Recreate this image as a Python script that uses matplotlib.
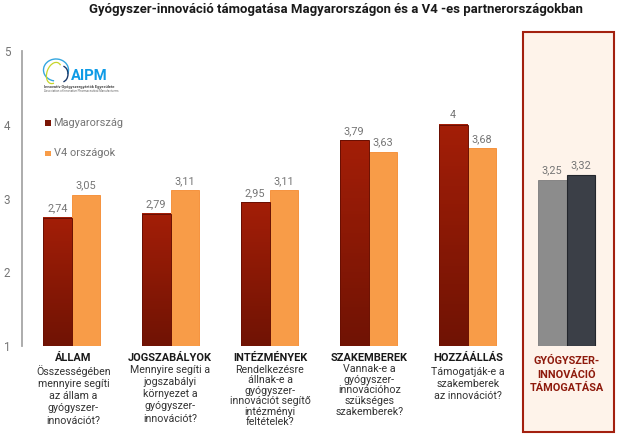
import numpy as np
import matplotlib.pyplot as plt
from matplotlib.patches import Rectangle, Arc
from matplotlib.colors import LinearSegmentedColormap

W, H = 620, 436

TITLE = "Gyógyszer-innováció támogatása Magyarországon és a V4 -es partnerországokban"
categories = ["ÁLLAM", "JOGSZABÁLYOK", "INTÉZMÉNYEK", "SZAKEMBEREK", "HOZZÁÁLLÁS"]
questions = [
    "Összességében\nmennyire segíti\naz állam a\ngyógyszer-\ninnovációt?",
    "Mennyire segíti a\njogszabályi\nkörnyezet a\ngyógyszer-\ninnovációt?",
    "Rendelkezésre\nállnak-e a\ngyógyszer-\ninnovációt segítő\nintézményi\nfeltételek?",
    "Vannak-e a\ngyógyszer-\ninnovációhoz\nszükséges\nszakemberek?",
    "Támogatják-e a\nszakemberek\naz innovációt?",
]
hungary = [2.74, 2.79, 2.95, 3.79, 4]
v4 = [3.05, 3.11, 3.11, 3.63, 3.68]
total_label = "GYÓGYSZER-\nINNOVÁCIÓ\nTÁMOGATÁSA"
total_hungary = 3.25
total_v4 = 3.32
yticks = [1, 2, 3, 4, 5]

# text placement below the groups, in pixels
text_centres = [73.5, 170, 270, 369.5, 468]
text_tops = [365, 365, 365, 364, 367]
text_spacing = [1.27, 1.27, 1.06, 1.08, 1.27]

plt.rcParams["font.family"] = "Roboto"

fig = plt.figure(figsize=(W / 100, H / 100), dpi=100)


def px(x, y):
    # pixel position -> figure fraction
    return x / W, 1 - y / H


def fmt(v):
    return f"{v:g}".replace(".", ",")


# highlighted panel behind the last group
fig.patches.append(Rectangle(px(522.5, 431.5), 91 / W, 399.5 / H, transform=fig.transFigure,
                             facecolor="#FEF3EA", edgecolor="#A3200F", linewidth=1.5, zorder=0))

ax = fig.add_axes([21.5 / W, 1 - 346 / H, (W - 21.5) / W, 295 / H])
ax.patch.set_alpha(0)
ax.set_zorder(2)
for side in ["top", "right", "bottom"]:
    ax.spines[side].set_visible(False)
ax.spines["left"].set_color("#A6A6A6")
ax.spines["left"].set_linewidth(1.3)
ax.set_xticks([])
ax.set_yticks(yticks)
ax.tick_params(axis="y", length=0, pad=8, labelsize=8.4, labelcolor="#757575")

red_grad = LinearSegmentedColormap.from_list("red_grad", ["#701304", "#A31E07"])
bw = 0.288


def grad_bar(x, v):
    ax.imshow(np.linspace(1, 0, 64).reshape(-1, 1), cmap=red_grad, aspect="auto",
              extent=[x - bw / 2, x + bw / 2, 1, v], zorder=2)
    ax.add_patch(Rectangle((x - bw / 2, 1), bw, v - 1, facecolor="none",
                           edgecolor="#6A0F02", linewidth=0.7, zorder=3))


def value_label(x, v):
    ax.text(x, v + 0.06, fmt(v), ha="center", va="bottom", fontsize=7.8, color="#757575", zorder=4)


for i, (a, b) in enumerate(zip(hungary, v4)):
    grad_bar(i - bw / 2, a)
    ax.bar(i + bw / 2, b - 1, bw, bottom=1, color="#F89C48", edgecolor="#F58A2E", linewidth=0.6, zorder=2)
    value_label(i - bw / 2, a)
    value_label(i + bw / 2, b)

ax.bar(5 - bw / 2, total_hungary - 1, bw, bottom=1, color="#8C8C8C", edgecolor="#7C7C7C", linewidth=0.6, zorder=2)
ax.bar(5 + bw / 2, total_v4 - 1, bw, bottom=1, color="#3B3F47", edgecolor="#23262C", linewidth=0.8, zorder=2)
value_label(5 - bw / 2, total_hungary)
value_label(5 + bw / 2, total_v4)
ax.set_xlim(-50 / 99, (W - 71.5) / 99)
ax.set_ylim(1, 5)

# labels under the bars
for i, (cat, q) in enumerate(zip(categories, questions)):
    cx = text_centres[i] / W
    fig.text(cx, 1 - 358 / H, cat, ha="center", va="center", fontsize=7.9, fontweight="bold", color="#1A1A1A")
    fig.text(cx, 1 - text_tops[i] / H, q, ha="center", va="top", fontsize=7.7, color="#333333",
             linespacing=text_spacing[i])

fig.text(567 / W, 1 - 374.5 / H, total_label, ha="center", va="center", fontsize=7.8, fontweight="bold",
         color="#8E1A0C", linespacing=1.4)

fig.text(336 / W, 1 - 9 / H, TITLE, ha="center", va="center", fontsize=9.45, fontweight="bold", color="#1A1A1A")

# legend
for y, col, name in [(123, "#7A1505", "Magyarország"), (153, "#F89C48", "V4 országok")]:
    fig.patches.append(Rectangle(px(45.5, y + 3), 5.5 / W, 5.5 / H, transform=fig.transFigure,
                                 facecolor=col, edgecolor="none"))
    fig.text(53.5 / W, 1 - y / H, name, ha="left", va="center", fontsize=7.9, color="#757575")

# logo
logo = fig.add_axes([0, 0, 1, 1], zorder=3)
logo.set_xlim(0, W)
logo.set_ylim(H, 0)
logo.axis("off")
logo.add_patch(Arc((56, 70), 25, 22, angle=0, theta1=100, theta2=20, edgecolor="#35A7E0", linewidth=1.0))
logo.add_patch(Arc((54, 73), 14, 22, angle=20, theta1=70, theta2=290, edgecolor="#C7D52B", linewidth=0.9))
logo.add_patch(Arc((62, 74), 12, 16, angle=0, theta1=-80, theta2=80, edgecolor="#1B3A6B", linewidth=1.0))
logo.text(70.5, 75.5, "AIPM", ha="left", va="center", fontsize=10.6, fontweight="bold", color="#0E9BE6")
logo.text(44.5, 87, "Innovatív Gyógyszergyártók Egyesülete", ha="left", va="center",
          fontsize=2.9, fontweight="bold", color="#444444")
logo.text(44.5, 91.5, "Association of Innovative Pharmaceutical Manufacturers", ha="left", va="center",
          fontsize=2.1, color="#666666")

fig.savefig("out.png", dpi=100)
